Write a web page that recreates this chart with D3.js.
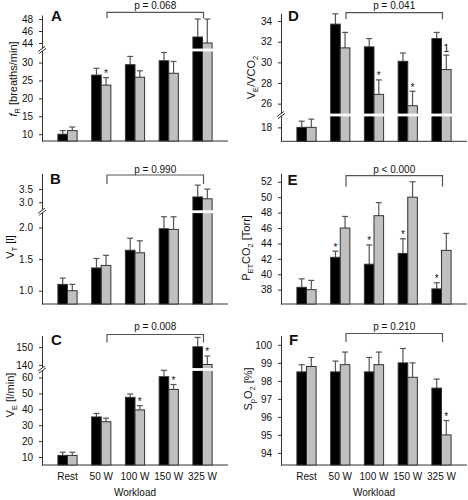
<!DOCTYPE html>
<html><head><meta charset="utf-8">
<script src="https://cdn.jsdelivr.net/npm/d3@7"></script>
<style>
body{margin:0;background:#fff}
svg{display:block}
text{font-family:"Liberation Sans",Arial,sans-serif;fill:#111}
</style>
</head><body>
<svg id="chart" width="468" height="500"></svg>
<script>
const categories = ["Rest","50 W","100 W","150 W","325 W"];

// A: respiratory rate f_R [breaths/min]
const fR_black    = [10.0, 26.5, 29.4, 30.5, 45.0];
const fR_black_sd = [1.0, 1.9, 2.3, 2.3, 3.0];
const fR_gray     = [11.0, 23.7, 25.9, 27.0, 44.0];
const fR_gray_sd  = [1.0, 2.1, 1.8, 3.3, 4.0];
const fR_black_mark = ["","","","",""];
const fR_gray_mark  = ["","*","","",""];
const fR_ticksLow = [10,15,20,25,30];
const fR_ticksUp  = [44,46,48];

// B: tidal volume V_T [l]
const VT_black    = [1.10, 1.36, 1.64, 1.98, 3.20];
const VT_black_sd = [0.10, 0.15, 0.19, 0.19, 0.45];
const VT_gray     = [1.00, 1.40, 1.60, 1.97, 3.13];
const VT_gray_sd  = [0.10, 0.16, 0.19, 0.20, 0.37];
const VT_black_mark = ["","","","",""];
const VT_gray_mark  = ["","","","",""];
const VT_ticksLow = [1.0,1.5,2.0];
const VT_ticksUp  = [3.0,3.5];

// C: minute ventilation V_E [l/min]
const VE_black    = [11, 35.2, 47.5, 60.5, 150.2];
const VE_black_sd = [2, 2.2, 2.1, 4.0, 5.3];
const VE_gray     = [11, 32.2, 39.6, 52.5, 140.2];
const VE_gray_sd  = [2, 2.2, 2.7, 3.1, 4.8];
const VE_black_mark = ["","","","",""];
const VE_gray_mark  = ["","","*","*","*"];
const VE_ticksLow = [10,20,30,40,50,60];
const VE_ticksUp  = [140,150];

// D: V_E/VCO_2
const EQ_black    = [18.0, 33.7, 31.5, 30.1, 32.3];
const EQ_black_sd = [0.6, 1.0, 0.8, 0.8, 0.6];
const EQ_gray     = [18.0, 31.4, 26.9, 25.8, 29.3];
const EQ_gray_sd  = [0.8, 1.5, 1.4, 1.4, 1.4];
const EQ_black_mark = ["","","","",""];
const EQ_gray_mark  = ["","","*","*","1"];
const EQ_ticksLow = [18];
const EQ_ticksUp  = [26,28,30,32,34];

// E: P_ETCO_2 [Torr]
const PET_black    = [38.3, 42.2, 41.3, 42.7, 38.1];
const PET_black_sd = [1.1, 0.8, 2.5, 1.9, 0.8];
const PET_gray     = [38.0, 46.0, 47.6, 50.0, 43.1];
const PET_gray_sd  = [1.2, 1.5, 1.7, 2.0, 2.2];
const PET_black_mark = ["","*","*","*","*"];
const PET_gray_mark  = ["","","","",""];
const PET_ticks = [38,40,42,44,46,48,50,52];

// F: S_pO_2 [%]
const SpO2_black    = [98.5, 98.5, 98.5, 99.0, 97.6];
const SpO2_black_sd = [0.4, 0.6, 0.8, 0.8, 0.5];
const SpO2_gray     = [98.8, 98.9, 98.9, 98.2, 95.0];
const SpO2_gray_sd  = [0.5, 0.7, 0.7, 0.8, 0.8];
const SpO2_black_mark = ["","","","",""];
const SpO2_gray_mark  = ["","","","","*"];
const SpO2_ticks = [94,95,96,97,98,99,100];

const pTexts = ["p = 0.068","p = 0.990","p = 0.008","p = 0.041","p < 0.000","p = 0.210"];
const panelLetters = ["A","B","C","D","E","F"];

const svg = d3.select("#chart");
const BW = 9.6;
const axisColor = "#333";
const errColor = "#555";

const panels = [
  {letter:0, x0:42, x1:228, yTop:15, yBot:141, breakY:50, low:[8.1,33.5], up:[42.83,48.67],
   tl:fR_ticksLow, tu:fR_ticksUp, b:fR_black, bs:fR_black_sd, g:fR_gray, gs:fR_gray_sd, bm:fR_black_mark, gm:fR_gray_mark,
   brY:12.3, brD:6, pY:8.7, lx:51, ly:20.8,
   ylab:[{t:"f",it:true},{t:"R",sub:true},{t:" [breaths/min]"}], ylx:16.5, yly:79, showX:false},
  {letter:1, x0:42, x1:228, yTop:173.3, yBot:304, breakY:211.7, low:[0.79,2.25], up:[2.64,4.1],
   tl:VT_ticksLow, tu:VT_ticksUp, b:VT_black, bs:VT_black_sd, g:VT_gray, gs:VT_gray_sd, bm:VT_black_mark, gm:VT_gray_mark,
   brY:175, brD:9, pY:172.5, lx:50, ly:183.5, fmt:d3.format(".1f"),
   ylab:[{t:"V"},{t:"T",sub:true},{t:" [l]"}], ylx:14, yly:247, showX:false},
  {letter:2, x0:42, x1:228, yTop:335.5, yBot:465, breakY:369.5, low:[4.97,65.03], up:[137.35,156.6],
   tl:VE_ticksLow, tu:VE_ticksUp, b:VE_black, bs:VE_black_sd, g:VE_gray, gs:VE_gray_sd, bm:VE_black_mark, gm:VE_gray_mark,
   brY:334.5, brD:8, pY:330, lx:51, ly:345,
   ylab:[{t:"V"},{t:"E",sub:true},{t:" [l/min]"}], ylx:14, yly:395, showX:true},
  {letter:3, x0:281, x1:467, yTop:13.3, yBot:141.3, breakY:115, low:[16.65,19.2], up:[24.9,34.75],
   tl:EQ_ticksLow, tu:EQ_ticksUp, b:EQ_black, bs:EQ_black_sd, g:EQ_gray, gs:EQ_gray_sd, bm:EQ_black_mark, gm:EQ_gray_mark,
   brY:12.7, brD:6.5, pY:8.7, lx:288, ly:20.8,
   ylab:[{t:"V"},{t:"E",sub:true},{t:"/VCO"},{t:"2",sub:true}], ylx:255, yly:77.5, showX:false},
  {letter:4, x0:281, x1:467, yTop:173.3, yBot:304, breakY:null, low:[36.14,53.1],
   tl:PET_ticks, b:PET_black, bs:PET_black_sd, g:PET_gray, gs:PET_gray_sd, bm:PET_black_mark, gm:PET_gray_mark,
   brY:175.7, brD:11, pY:173, lx:287.5, ly:185,
   ylab:[{t:"P"},{t:"ET",sub:true},{t:"CO"},{t:"2",sub:true},{t:" [Torr]"}], ylx:250, yly:248, showX:false},
  {letter:5, x0:281, x1:467, yTop:335.5, yBot:465, breakY:null, low:[93.33,100.52],
   tl:SpO2_ticks, b:SpO2_black, bs:SpO2_black_sd, g:SpO2_gray, gs:SpO2_gray_sd, bm:SpO2_black_mark, gm:SpO2_gray_mark,
   brY:333.5, brD:8.5, pY:329.5, lx:289, ly:345,
   ylab:[{t:"S"},{t:"p",sub:true},{t:"O"},{t:"2",sub:true},{t:" [%]"}], ylx:251.5, yly:389, showX:true}
];

panels.forEach(p => {
  const g = svg.append("g");
  const x = d3.scalePoint().domain(categories).range([p.x0, p.x1]).padding(0.7556);
  const hasBreak = p.breakY !== null;
  const lower = d3.scaleLinear().domain(p.low).range([p.yBot, hasBreak ? p.breakY : p.yTop]);
  const upper = hasBreak ? d3.scaleLinear().domain(p.up).range([p.breakY, p.yTop]) : null;
  const Y = v => (upper && v >= p.up[0]) ? upper(v) : lower(v);
  const fmt = p.fmt || (d => d);

  const styleAxis = sel => {
    sel.select(".domain").attr("stroke", axisColor);
    sel.selectAll(".tick line").attr("stroke", axisColor);
    sel.selectAll(".tick text").attr("font-size", 10).attr("fill", "#111")
       .style("font-family", '"Liberation Sans",Arial,sans-serif');
  };
  g.append("g").attr("transform", `translate(${p.x0},0)`)
    .call(d3.axisLeft(lower).tickValues(p.tl).tickFormat(fmt).tickSize(3).tickSizeOuter(0).tickPadding(6))
    .call(styleAxis);
  if (upper) {
    g.append("g").attr("transform", `translate(${p.x0},0)`)
      .call(d3.axisLeft(upper).tickValues(p.tu).tickFormat(fmt).tickSize(3).tickSizeOuter(0).tickPadding(6))
      .call(styleAxis);
  }
  g.append("line").attr("x1", p.x0).attr("x2", p.x1).attr("y1", p.yBot).attr("y2", p.yBot)
    .attr("stroke", axisColor).attr("stroke-width", 1);

  const series = [
    {vals:p.b, sd:p.bs, marks:p.bm, fill:"#000000", off:-BW},
    {vals:p.g, sd:p.gs, marks:p.gm, fill:"#c0c0c0", off:0}
  ];
  series.forEach(s => {
    categories.forEach((c, i) => {
      const v = s.vals[i], e = v + s.sd[i];
      const xl = x(c) + s.off;
      const cxm = xl + BW / 2;
      g.append("line").attr("x1", cxm).attr("x2", cxm).attr("y1", Y(v)).attr("y2", Y(e))
        .attr("stroke", errColor).attr("stroke-width", 1.2);
      g.append("line").attr("x1", cxm - 3).attr("x2", cxm + 3).attr("y1", Y(e)).attr("y2", Y(e))
        .attr("stroke", errColor).attr("stroke-width", 1.2);
      g.append("rect").attr("x", xl).attr("y", Y(v)).attr("width", BW).attr("height", p.yBot - Y(v))
        .attr("fill", s.fill).attr("stroke", "#333").attr("stroke-width", 1);
      if (upper && v >= p.up[0]) {
        g.append("rect").attr("x", xl - 1).attr("y", p.breakY - 1.4).attr("width", BW + 2).attr("height", 2.8)
          .attr("fill", "#fff");
      }
      const m = s.marks[i];
      if (m) {
        if (m === "*") {
          g.append("text").attr("x", cxm).attr("y", Y(e) - 0.5).attr("text-anchor", "middle")
            .attr("font-size", 10).text(m);
        } else {
          g.append("text").attr("x", cxm).attr("y", Y(e) - 3.5).attr("text-anchor", "middle")
            .attr("font-size", 11).text(m);
        }
      }
    });
  });

  if (hasBreak) {
    const by = p.breakY, ax = p.x0;
    g.append("path").attr("d", `M${ax-3.5},${by+3.8} L${ax+3.5},${by-1.2} L${ax+3.5},${by-3.8} L${ax-3.5},${by+1.2} Z`)
      .attr("fill", "#fff");
    g.append("line").attr("x1", ax-4).attr("y1", by+1.6).attr("x2", ax+3).attr("y2", by-3.6).attr("stroke", axisColor);
    g.append("line").attr("x1", ax-3).attr("y1", by+3.6).attr("x2", ax+4).attr("y2", by-1.6).attr("stroke", axisColor);
  }

  const bx1 = x(categories[1]) + BW * 0.6;
  const bx2 = x(categories[4]) + 1;
  g.append("path").attr("d", `M${bx1},${p.brY + p.brD} V${p.brY} H${bx2} V${p.brY + p.brD}`)
    .attr("fill", "none").attr("stroke", "#555").attr("stroke-width", 1.2);
  g.append("text").attr("x", (bx1 + bx2) / 2).attr("y", p.pY).attr("text-anchor", "middle")
    .attr("font-size", 10).text(pTexts[p.letter]);

  g.append("text").attr("x", p.lx).attr("y", p.ly).attr("font-size", 15).attr("font-weight", "bold")
    .text(panelLetters[p.letter]);

  const t = g.append("text").attr("transform", `translate(${p.ylx},${p.yly}) rotate(-90)`)
    .attr("text-anchor", "middle").attr("font-size", 11);
  let shifted = false;
  p.ylab.forEach(part => {
    const ts = t.append("tspan").text(part.t);
    if (part.it) ts.attr("font-style", "italic");
    if (part.sub) { ts.attr("font-size", 7.5).attr("dy", 3); shifted = true; }
    else if (shifted) { ts.attr("dy", -3); shifted = false; }
  });

  if (p.showX) {
    categories.forEach(c => {
      g.append("text").attr("x", x(c)).attr("y", 479.5).attr("text-anchor", "middle")
        .attr("font-size", 10).text(c);
    });
    g.append("text").attr("x", (p.x0 + p.x1) / 2).attr("y", 496).attr("text-anchor", "middle")
      .attr("font-size", 10).text("Workload");
  }
});
</script>
</body></html>
